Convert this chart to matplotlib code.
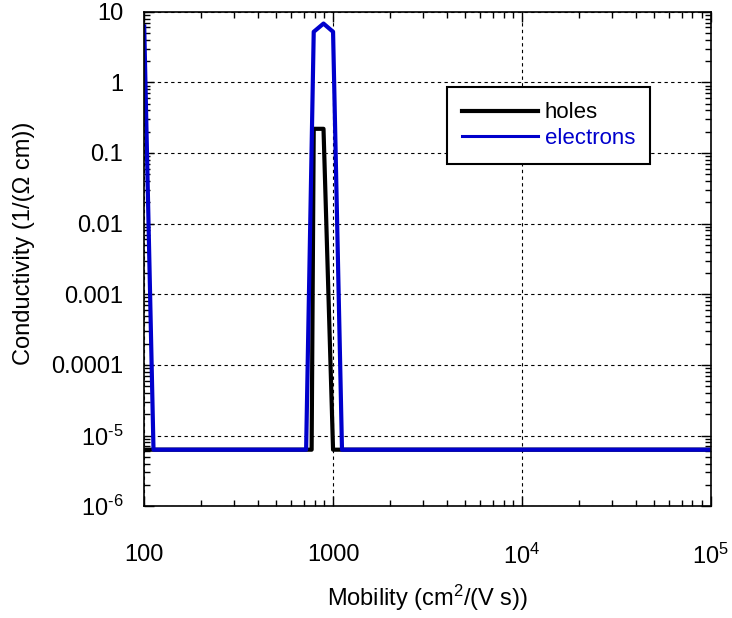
import numpy as np
import matplotlib
matplotlib.use('Agg')
import matplotlib.pyplot as plt

plt.rcParams['font.family'] = ['Liberation Sans', 'DejaVu Sans']
plt.rcParams['mathtext.fontset'] = 'custom'
plt.rcParams['mathtext.rm'] = 'Liberation Sans'
plt.rcParams['mathtext.it'] = 'Liberation Sans'
plt.rcParams['mathtext.default'] = 'regular'

# data
base = 6.3e-6
mob_holes = [100, 770, 790, 890, 1000, 1e5]
sig_holes = [base, base, 0.22, 0.22, base, base]
mob_elec = [100, 112, 720, 790, 890, 1000, 1115, 1e5]
sig_elec = [6.2, base, base, 5.2, 6.8, 5.2, base, base]

xticks = [100, 1000, 1e4, 1e5]
xlabels = ['100', '1000', '10$^{4}$', '10$^{5}$']
yticks = [10, 1, 0.1, 0.01, 0.001, 0.0001, 1e-5, 1e-6]
ylabels = ['10', '1', '0.1', '0.01', '0.001', '0.0001',
           '10$^{\u20105}$', '10$^{\u20106}$']

fig = plt.figure(figsize=(7.32, 6.18), dpi=100)
ax = fig.add_axes([0.197, 0.181, 0.774, 0.8])

ax.plot(mob_holes, sig_holes, color='black', lw=3, label='holes')
ax.plot(mob_elec, sig_elec, color='#0000cc', lw=3, label='electrons')

ax.set_xscale('log')
ax.set_yscale('log')
ax.set_xlim(100, 1e5)
ax.set_ylim(1e-6, 10)
ax.set_xticks(xticks)
ax.set_xticklabels(xlabels)
ax.set_yticks(yticks)
ax.set_yticklabels(ylabels)

ax.tick_params(which='both', direction='in', top=True, right=True, labelsize=17)
ax.tick_params(which='major', length=7, width=1)
ax.tick_params(which='minor', length=4, width=1)
ax.tick_params(axis='x', pad=27)
ax.tick_params(axis='y', pad=15)
ax.grid(True, which='major', color='black', ls=(0, (3, 3)), lw=0.8)
for s in ax.spines.values():
    s.set_linewidth(1.2)

ax.set_xlabel('Mobility (cm$^{2}$/(V s))', fontsize=17)
ax.set_ylabel('Conductivity (1/(\u03a9 cm))', fontsize=17)
ax.xaxis.set_label_coords(0.5, -0.155)
ax.yaxis.set_label_coords(-0.192, 0.532)

leg = ax.legend(loc='upper left', bbox_to_anchor=(0.534, 0.848), fancybox=False,
                edgecolor='black', framealpha=1, fontsize=16, handlelength=3.4,
                handletextpad=0.3, borderpad=0.7, labelspacing=0.2, borderaxespad=0)
leg.get_frame().set_linewidth(1.5)
leg.get_texts()[1].set_color('#0000cc')
leg.get_lines()[1].set_linewidth(2.2)

fig.savefig('out.png', dpi=100)
